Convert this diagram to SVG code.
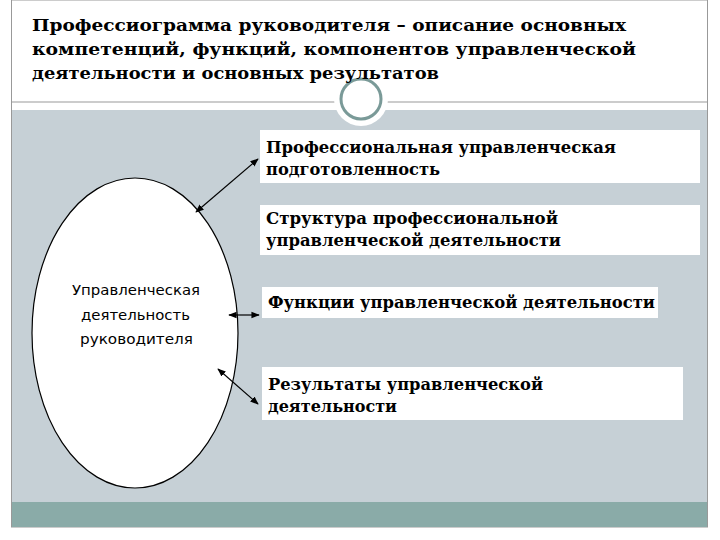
<svg xmlns="http://www.w3.org/2000/svg" width="720" height="540" viewBox="0 0 720 540">
<style>
.t{font-family:"DejaVu Serif","Liberation Serif",serif;font-weight:bold;font-size:16px;fill:#000}
.b{font-family:"DejaVu Sans","Noto Sans",sans-serif;font-size:14px;fill:#000}
.box{fill:#fff}
.c{stroke:#000;stroke-width:1.2;marker-start:url(#a);marker-end:url(#a)}
</style>
<defs><marker id="a" viewBox="0 0 10 10" refX="9" refY="5" markerWidth="7" markerHeight="7" orient="auto-start-reverse"><path d="M0,1 L10,5 L0,9 z" fill="#000"/></marker></defs>
<rect x="0" y="0" width="720" height="540" fill="#fff"/>
<rect x="11.5" y="0" width="696" height="527" fill="none" stroke="#999" stroke-width="1"/>
<rect x="12" y="110" width="695" height="392" fill="#c6d0d6"/>
<rect x="12" y="502" width="695" height="25" fill="#8aaba8"/>
<line x1="12" y1="102" x2="707" y2="102" stroke="#999"/>
<circle cx="361" cy="99" r="27" fill="#fff"/>
<circle cx="361" cy="99" r="20" fill="#fff" stroke="#7a9a98" stroke-width="3"/>
<text class="t" x="32" y="31" textLength="594" lengthAdjust="spacingAndGlyphs">Профессиограмма руководителя – описание основных</text>
<text class="t" x="32" y="55" textLength="604" lengthAdjust="spacingAndGlyphs">компетенций, функций, компонентов управленческой</text>
<text class="t" x="32" y="79" textLength="407" lengthAdjust="spacingAndGlyphs">деятельности и основных результатов</text>
<g id="center"><ellipse cx="135" cy="333" rx="103" ry="155" fill="#fff" stroke="#000" stroke-width="1.2"/>
<text class="b" x="72" y="295" textLength="128" lengthAdjust="spacingAndGlyphs">Управленческая</text>
<text class="b" x="81" y="320" textLength="109" lengthAdjust="spacingAndGlyphs">деятельность</text>
<text class="b" x="80" y="344" textLength="113" lengthAdjust="spacingAndGlyphs">руководителя</text></g>
<g id="n1"><rect class="box" x="260" y="130" width="440" height="53"/><text class="t" x="266" y="153" textLength="350" lengthAdjust="spacingAndGlyphs">Профессиональная управленческая</text><text class="t" x="266" y="175" textLength="174" lengthAdjust="spacingAndGlyphs">подготовленность</text></g>
<g id="n2"><rect class="box" x="260" y="205" width="440" height="50"/><text class="t" x="266" y="224" textLength="292" lengthAdjust="spacingAndGlyphs">Структура профессиональной</text><text class="t" x="266" y="246" textLength="295" lengthAdjust="spacingAndGlyphs">управленческой деятельности</text></g>
<g id="n3"><rect class="box" x="262" y="287" width="396" height="31"/><text class="t" x="268" y="308" textLength="387" lengthAdjust="spacingAndGlyphs">Функции управленческой деятельности</text></g>
<g id="n4"><rect class="box" x="262" y="367" width="421" height="53"/><text class="t" x="268" y="390" textLength="275" lengthAdjust="spacingAndGlyphs">Результаты управленческой</text><text class="t" x="268" y="412" textLength="129" lengthAdjust="spacingAndGlyphs">деятельности</text></g>
<g id="connectors">
<line class="c" x1="196" y1="212" x2="258" y2="159"/>
<line class="c" x1="229" y1="315" x2="259" y2="315"/>
<line class="c" x1="218" y1="369" x2="258" y2="404"/>
</g>
</svg>
